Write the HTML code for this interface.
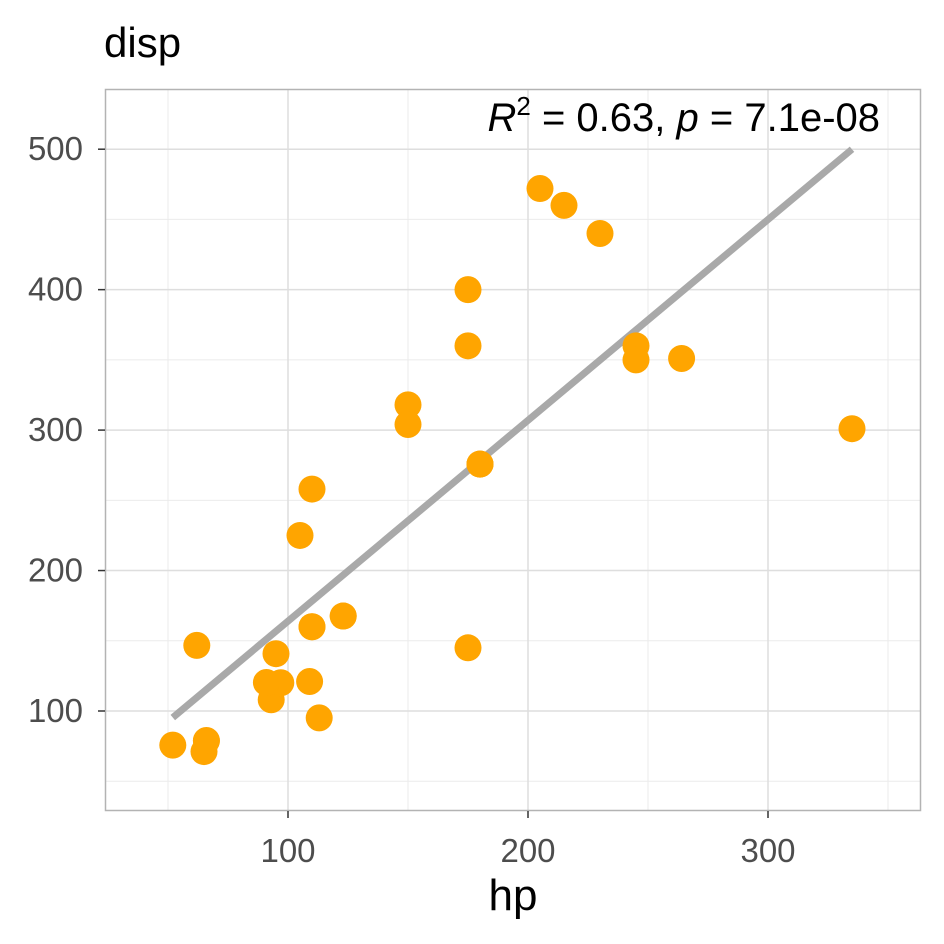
<!DOCTYPE html>
<html><head><meta charset="utf-8"><style>body{margin:0;background:#fff}svg{display:block;font-family:"Liberation Sans",sans-serif}</style></head>
<body>
<svg id="chart" width="944" height="944" viewBox="0 0 944 944">
<rect width="944" height="944" fill="#fff"/>
<text x="104" y="57" font-size="42" fill="#000">disp</text>
<g id="grid"></g>
<g id="line"></g>
<g id="points"></g>
<rect x="105.5" y="89.5" width="815" height="721" fill="none" stroke="#b3b3b3" stroke-width="1.5"/>
<g id="ticks"></g>
<text x="513" y="910" font-size="44" text-anchor="middle" fill="#000">hp</text>
<text x="880" y="131" font-size="40" text-anchor="end" fill="#000"><tspan font-style="italic">R</tspan><tspan dy="-16" font-size="26">2</tspan><tspan dy="16"> = 0.63, </tspan><tspan font-style="italic">p</tspan><tspan> = 7.1e-08</tspan></text>
</svg>
<script>
const hp=[110,110,93,110,175,105,245,62,95,123,123,180,180,180,205,215,230,66,52,65,97,150,150,245,175,66,91,113,264,175,335,109];
const disp=[160,160,108,258,360,225,360,146.7,140.8,167.6,167.6,275.8,275.8,275.8,472,460,440,78.7,75.7,71.1,120.1,318,304,350,400,79,120.3,95.1,351,145,301,121];
const xTicks=[100,200,300];
const yTicks=[100,200,300,400,500];
const xMinor=[50,150,250,350];
const yMinor=[50,150,250,350,450];
const NS="http://www.w3.org/2000/svg";
const X=v=>288+(v-100)*2.4;
const Y=v=>711-(v-100)*1.4045;
function mk(t,a,p){const e=document.createElementNS(NS,t);for(const k in a)e.setAttribute(k,a[k]);p.appendChild(e);return e;}
const g=document.getElementById('grid'),tk=document.getElementById('ticks');
xMinor.forEach(v=>{const e=mk('line',{x1:X(v),x2:X(v),y1:90,y2:810,stroke:'#ebebeb','stroke-width':1},g);

});
yMinor.forEach(v=>{const e=mk('line',{x1:106,x2:920,y1:Y(v),y2:Y(v),stroke:'#ebebeb','stroke-width':1},g);

});
xTicks.forEach(v=>{const e=mk('line',{x1:X(v),x2:X(v),y1:90,y2:810,stroke:'#dedede','stroke-width':1.5},g);


mk('line',{x1:X(v),x2:X(v),y1:811,y2:818,stroke:'#333','stroke-width':1.5},tk);
const t=mk('text',{x:X(v),y:862,'font-size':33,fill:'#4d4d4d','text-anchor':'middle'},tk);t.textContent=v;

});
yTicks.forEach(v=>{const e=mk('line',{x1:106,x2:920,y1:Y(v),y2:Y(v),stroke:'#dedede','stroke-width':1.5},g);


mk('line',{x1:98,x2:105,y1:Y(v),y2:Y(v),stroke:'#333','stroke-width':1.5},tk);
const t=mk('text',{x:83,y:Y(v)+11,'font-size':33,fill:'#4d4d4d','text-anchor':'end'},tk);t.textContent=v;

});
const n=hp.length,mx=hp.reduce((a,b)=>a+b)/n,my=disp.reduce((a,b)=>a+b)/n;
let sxy=0,sxx=0;for(let i=0;i<n;i++){sxy+=(hp[i]-mx)*(disp[i]-my);sxx+=(hp[i]-mx)**2;}
const b=sxy/sxx,a=my-b*mx,x0=Math.min(...hp),x1=Math.max(...hp);
const ln=mk('line',{x1:X(x0),y1:Y(a+b*x0),x2:X(x1),y2:Y(a+b*x1),stroke:'#a9a9a9','stroke-width':7},document.getElementById('line'));


const pg=document.getElementById('points');
hp.forEach((h,i)=>{const c=mk('circle',{cx:X(h),cy:Y(disp[i]),r:13.5,fill:'#FFA500'},pg);

});
</script>
</body></html>
